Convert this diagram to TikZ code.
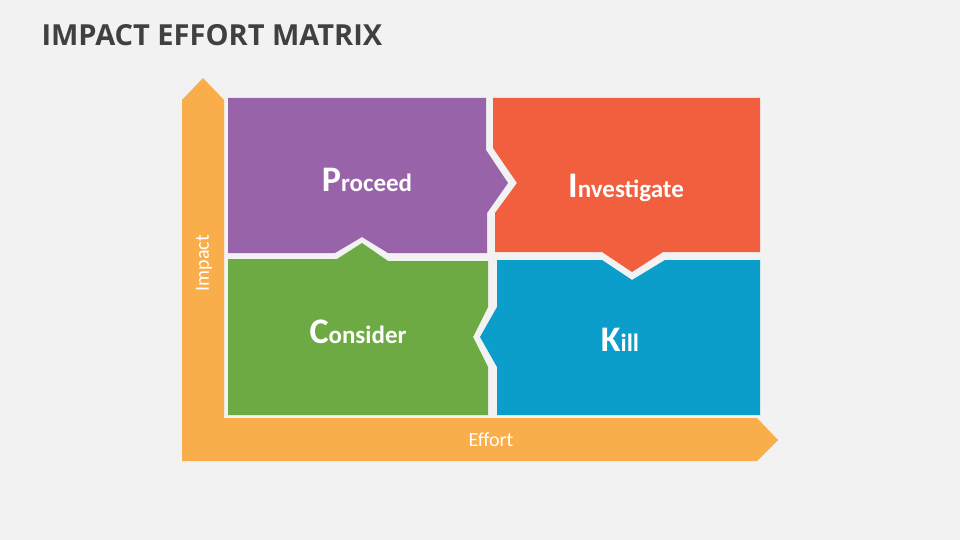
\documentclass[tikz,border=0pt]{standalone}
\usepackage{fontspec}
\setmainfont{Open Sans}
\newfontfamily\quadfont{Carlito}
\usepackage{tikz}
\definecolor{bgpage}{HTML}{F2F2F2}
\definecolor{titlegray}{HTML}{404040}
\definecolor{axisorange}{HTML}{F9AE4B}
\definecolor{proceedpurple}{HTML}{9863A8}
\definecolor{investorange}{HTML}{F15F3E}
\definecolor{considergreen}{HTML}{6DAA43}
\definecolor{killblue}{HTML}{0B9ECB}
\tikzset{
  quadlabel/.style={text=white, font=\quadfont\bfseries\fontsize{25}{28}\selectfont},
  axislabel/.style={text=white, font=\quadfont\fontsize{20}{22}\selectfont}
}
\newcommand{\bigfirst}[2]{{\fontsize{36}{38}\selectfont #1}#2}
\begin{document}
\begin{tikzpicture}[x=1pt,y=-1pt]
            \fill[bgpage] (0,0) rectangle (960,540);
            \useasboundingbox (0,0) rectangle (960,540);

            % Titre
            \node[anchor=west, text=titlegray, font=\bfseries\fontsize{29}{32}\selectfont] (title) at (38,35) {IMPACT EFFORT MATRIX};

            % Axes
            \fill[axisorange] (182,461) -- (182,100) -- (203,78) -- (224,100) -- (224,418)
                -- (757,418) -- (778,440) -- (757,461) -- cycle;
            \node[axislabel, rotate=90] (impact) at (204,263) {Impact};
            \node[axislabel] (effort) at (491,440) {Effort};

            % Quadrants
            \fill[proceedpurple] (228,98) -- (486,98) -- (486,150) -- (508,183) -- (487,213)
                -- (487,253) -- (388,253) -- (362,237) -- (335,253) -- (228,253) -- cycle;
            \fill[investorange] (493,98) -- (760,98) -- (760,252) -- (663,252) -- (632,272)
                -- (602,252) -- (495,252) -- (495,213) -- (517,183) -- (493,148) -- cycle;
            \fill[considergreen] (228,259) -- (337,259) -- (362,243) -- (388,261) -- (488,261)
                -- (488,307) -- (473,337) -- (488,367) -- (488,415) -- (228,415) -- cycle;
            \fill[killblue] (497,260) -- (602,260) -- (632,280) -- (665,260) -- (760,260)
                -- (760,415) -- (497,415) -- (497,367) -- (480,337) -- (497,307) -- cycle;

            \node[quadlabel] (proceed) at (367,180) {\bigfirst{P}{roceed}};
            \node[quadlabel] (investigate) at (626,188) {\bigfirst{I}{nvestigate}};
            \node[quadlabel] (consider) at (358,332) {\bigfirst{C}{onsider}};
            \node[quadlabel] (kill) at (620,340) {\bigfirst{K}{ill}};
        \end{tikzpicture}
\end{document}
